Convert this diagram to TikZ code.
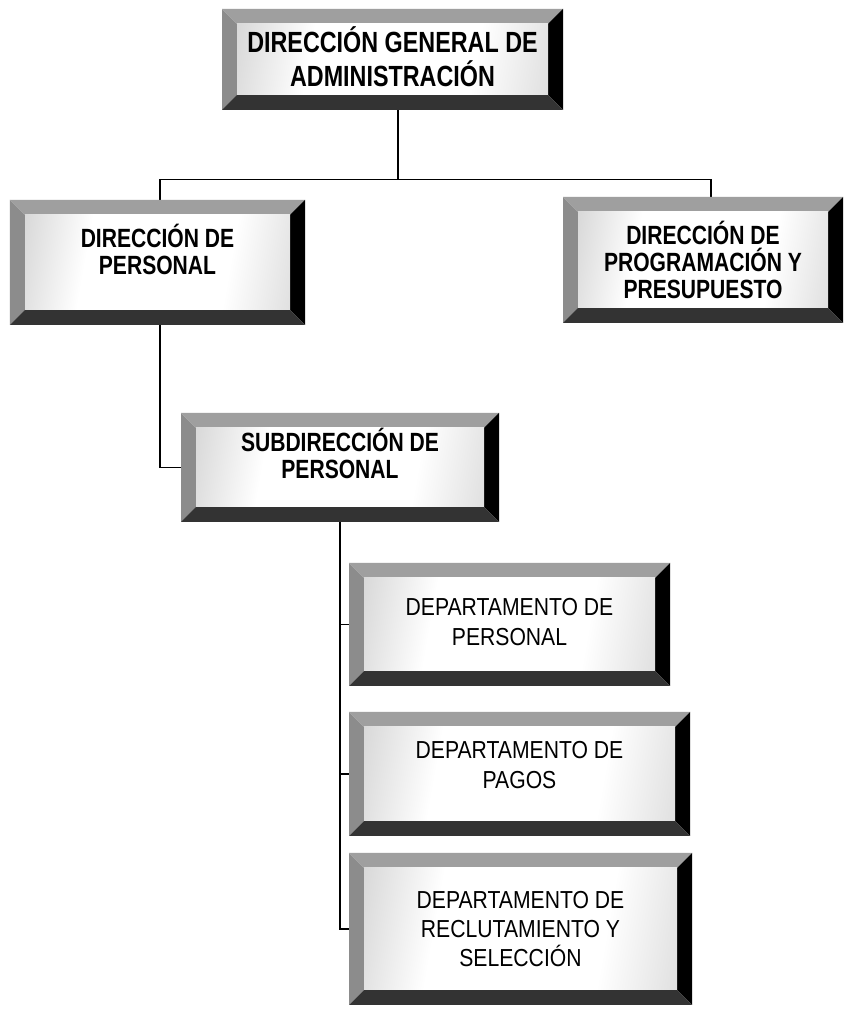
\documentclass[tikz,border=0pt]{standalone}
\usepackage{fontspec}
\setmainfont{Liberation Sans}
\newfontfamily\headfont{Liberation Sans}[FakeStretch=0.8]
\newfontfamily\deptfont{Liberation Sans}[FakeStretch=0.86]
\usepackage{tikz}
\usetikzlibrary{calc, backgrounds}

\pgfdeclarehorizontalshading{facesh}{100bp}{color(0bp)=(gray!75); color(35bp)=(white); color(65bp)=(white); color(100bp)=(gray!60)}

\begin{document}
\begin{tikzpicture}[
    every node/.style={font=\headfont\fontsize{15}{15.3}\selectfont},
    orgbox/.style={rectangle, inner sep=0pt, align=center, text=black,
      path picture={
        \coordinate (pa) at (path picture bounding box.south west);
        \coordinate (pb) at (path picture bounding box.north east);
        % left and top bevel
        \fill[gray!90] (pa) -- (pa|-pb) -- ($(pa|-pb)+(0.3,-0.3)$) -- ($(pa)+(0.3,0.3)$) -- cycle;
        \fill[gray!75] (pa|-pb) -- (pb) -- ($(pb)+(-0.3,-0.3)$) -- ($(pa|-pb)+(0.3,-0.3)$) -- cycle;
        % right and bottom bevel
        \fill[black] (pb) -- (pb|-pa) -- ($(pb|-pa)+(-0.3,0.3)$) -- ($(pb)+(-0.3,-0.3)$) -- cycle;
        \fill[black!80] (pa) -- (pb|-pa) -- ($(pb|-pa)+(-0.3,0.3)$) -- ($(pa)+(0.3,0.3)$) -- cycle;
        % face
        \shade[shading=facesh, shading angle=-10] ($(pa)+(0.3,0.3)$) rectangle ($(pb)+(-0.3,-0.3)$);
      }},
    head/.style={orgbox, font=\headfont\bfseries\fontsize{16.6}{19.3}\selectfont},
    dir/.style={orgbox, font=\headfont\bfseries\fontsize{15}{15.3}\selectfont},
    dept/.style={orgbox, font=\deptfont\fontsize{14}{16.7}\selectfont},
    lift/.style={text depth=#1},
    conn/.style={line width=0.8pt}
]
% Boxes
\node[head, minimum width=6.82cm, minimum height=2.02cm, lift=0.12cm] (dga) at (7.85,18.99) {DIRECCIÓN GENERAL DE\\ADMINISTRACIÓN};
\node[dir, minimum width=5.9cm, minimum height=2.5cm, lift=0.52cm] (dp) at (3.15,14.93) {DIRECCIÓN DE\\PERSONAL};
\node[dir, minimum width=5.6cm, minimum height=2.52cm] (dpp) at (14.06,14.98) {DIRECCIÓN DE\\PROGRAMACIÓN Y\\PRESUPUESTO};
\node[dir, minimum width=6.36cm, minimum height=2.18cm, lift=0.56cm] (sp) at (6.80,10.83) {SUBDIRECCIÓN DE\\PERSONAL};
\node[dept, minimum width=6.42cm, minimum height=2.46cm, lift=0.1cm] (dep1) at (10.19,7.69) {DEPARTAMENTO DE\\PERSONAL};
\node[dept, minimum width=6.82cm, minimum height=2.48cm, lift=0.36cm] (dep2) at (10.39,4.70) {DEPARTAMENTO DE\\PAGOS};
\node[dept, minimum width=6.86cm, minimum height=3.04cm] (dep3) at (10.41,1.60) {DEPARTAMENTO DE\\RECLUTAMIENTO Y\\SELECCIÓN};
% Connectors
\begin{scope}[on background layer]
\fill[white] (0,0) rectangle (16.96,20.18);
\draw[conn] ([xshift=0.11cm]dga.south) -- ++(0,-1.38) coordinate (bus);
\draw[conn] ([xshift=0.05cm]dp.north) |- (bus) -| ([xshift=0.16cm]dpp.north);
\draw[conn] ([xshift=0.05cm]dp.south) |- (sp.west);
\draw[conn] (sp.south) |- (dep1.west);
\draw[conn] (sp.south) |- (dep2.west);
\draw[conn] (sp.south) |- (dep3.west);
\end{scope}
\useasboundingbox (0,0) rectangle (16.96,20.18);
\end{tikzpicture}
\end{document}
